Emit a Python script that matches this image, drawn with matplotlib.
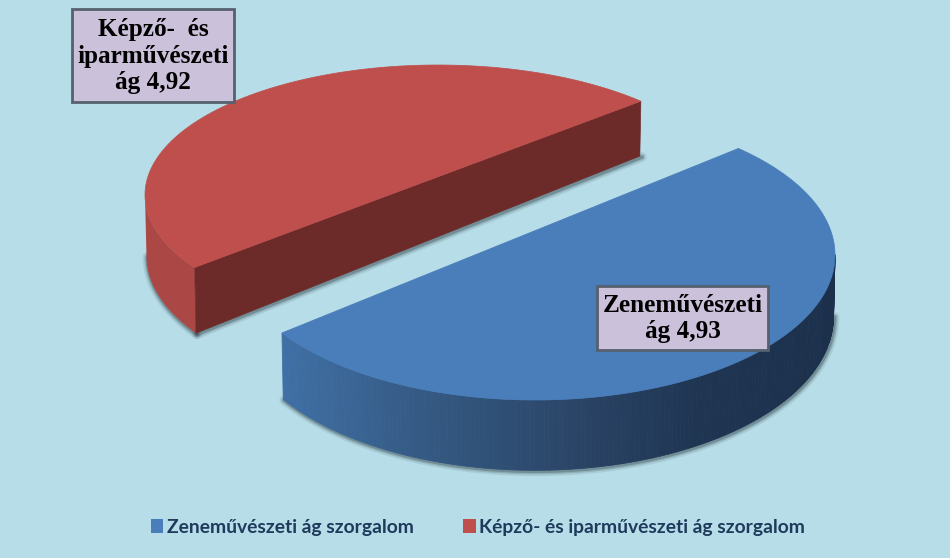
import numpy as np
from matplotlib import pyplot as plt
from matplotlib.patches import Patch, Polygon, Rectangle

# adatok
names = ['Zeneművészeti ág szorgalom', 'Képző- és iparművészeti ág szorgalom']
values = [4.93, 4.92]
label_texts = ['Zeneművészeti\nág', 'Képző-  és\niparművészeti\nág']
colors = ['#4a7ebb', '#be4f4c']

BG = '#b7dde8'
START = 40.4  # a szeletek kezdete fokban

# ellipse: cx, cy, a, b, perspective, depth, depth slope
blue_geo = (535, 255, 300, 145, 0.166, 61.5, -8.8)
red_geo = (438, 195, 293, 130, 0.138, 61, -8.5)


def project(angles, geo):
    cx, cy, a, b, p, d0, d1 = geo
    u = np.cos(angles)
    v = np.sin(angles)
    # kör pontjai perspektivával
    den = 1 + p * v
    x = u * np.sqrt(1 - p * p) / den
    y = (v + p) / den
    top = np.column_stack([cx + a * x, cy - b * y])
    bottom = np.column_stack([cx + a * x * 0.995, cy - b * y + d0 + d1 * y])
    return top, bottom


fig = plt.figure(figsize=(9.5, 5.58), dpi=100, facecolor=BG)
ax = fig.add_axes([0, 0, 1, 1])
ax.set_xlim(0, 950)
ax.set_ylim(558, 0)
ax.axis('off')

total = sum(values)
sweeps = [v / total * 2 * np.pi for v in values]
start = np.radians(START)

# piros szelet: a kék után következik, az óramutató irányában
red_ang = np.linspace(start - sweeps[0], start - sweeps[0] - sweeps[1], 240)
blue_ang = np.linspace(start, start - sweeps[0], 240)

top, bot = project(red_ang, red_geo)
n = np.argmin(top[:, 0]) + 1  # csak a látható palást
for lw, al in [(7, 0.10), (4.5, 0.18), (2.5, 0.3)]:
    ax.plot(bot[:n, 0] + 1, bot[:n, 1] + 1, color='#2a3a40', lw=lw, alpha=al, zorder=1, solid_capstyle='round')
    ax.plot([bot[0, 0] + 1, bot[-1, 0] + 2], [bot[0, 1] + 1, bot[-1, 1] + 1], color='#2a3a40', lw=lw, alpha=al, zorder=1, solid_capstyle='round')
ax.add_patch(Polygon(np.vstack([top[:n], bot[:n][::-1]]), fc='#ab4846', ec='none', zorder=2))
ax.add_patch(Polygon([top[0], top[-1], bot[-1], bot[0]], fc='#6c2a29', ec='#6c2a29', lw=0.5, zorder=3))
ax.add_patch(Polygon(top, fc=colors[1], ec=colors[1], lw=0.5, zorder=4))

top, bot = project(blue_ang, blue_geo)
n = np.argmax(top[:, 0])
for lw, al in [(7, 0.10), (4.5, 0.18), (2.5, 0.3)]:
    ax.plot(bot[n:, 0] + 1, bot[n:, 1] + 1, color='#2a3a40', lw=lw, alpha=al, zorder=5, solid_capstyle='round')
shade_x = [281, 420, 580, 700, 835]
shade_r = [0x40, 0x35, 0x2a, 0x1f, 0x1c]
shade_g = [0x70, 0x5a, 0x44, 0x35, 0x30]
shade_b = [0xa6, 0x84, 0x66, 0x52, 0x4c]
for i in range(n, len(top) - 1):
    mx = (top[i, 0] + top[i + 1, 0]) / 2
    c = (np.interp(mx, shade_x, shade_r) / 255, np.interp(mx, shade_x, shade_g) / 255, np.interp(mx, shade_x, shade_b) / 255)
    ax.add_patch(Polygon([top[i], top[i + 1], bot[i + 1], bot[i]], fc=c, ec=c, lw=0.6, zorder=6))
ax.add_patch(Polygon(top, fc=colors[0], ec=colors[0], lw=0.5, zorder=7))

# címkék
boxes = [(597, 286, 171, 64), (72, 9, 162, 93)]
for k in range(2):
    x0, y0, w, h = boxes[k]
    ax.add_patch(Rectangle((x0, y0), w, h, fc='#ccc1da', ec='#56606e', lw=2, zorder=8))
    txt = label_texts[k] + ' ' + f'{values[k]:.2f}'.replace('.', ',')
    ax.text(x0 + w / 2, y0 + h / 2 + 0.5, txt, ha='center', va='center', family='Liberation Serif',
            weight='bold', fontsize=18.2, color='black', linespacing=1.17, zorder=9)

# jelmagyarázat
handles = [Patch(fc=colors[i], ec='none', label=names[i]) for i in range(2)]
leg = ax.legend(handles=handles, ncol=2, loc='center', bbox_to_anchor=(478, 527),
                bbox_transform=ax.transData, frameon=False, handlelength=0.65, handleheight=0.75,
                handletextpad=0.2, columnspacing=2.55, borderpad=0,
                prop={'family': 'Lato', 'weight': 'bold', 'size': 13.85})
for t in leg.get_texts():
    t.set_color('#1f3b5c')

fig.savefig('out.png', dpi=100, facecolor=BG)
